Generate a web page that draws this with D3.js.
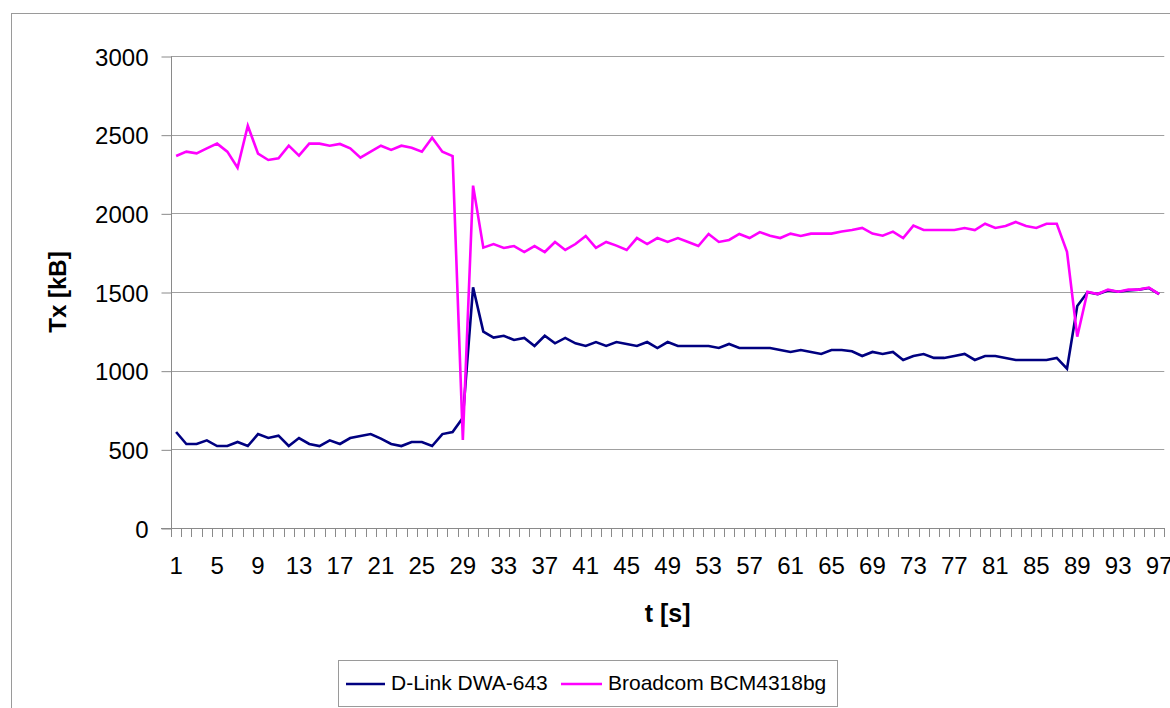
<!DOCTYPE html>
<html>
<head>
<meta charset="utf-8">
<script src="https://cdn.jsdelivr.net/npm/d3@7"></script>
<style>
  html, body { margin: 0; padding: 0; background: #fff; }
  svg { display: block; font-family: "Liberation Sans", Arial, sans-serif; }
</style>
</head>
<body>
<svg id="chart" width="1170" height="708"></svg>
<script>
// ---- data ----
const categories = d3.range(1, 98);
const seriesNames = ["D-Link DWA-643", "Broadcom BCM4318bg"];
const dlink = [610, 534, 534, 557, 521, 521, 547, 521, 597, 572,
  587, 521, 572, 534, 521, 557, 534, 572, 585, 597,
  568, 534, 521, 547, 547, 521, 597, 610, 700, 1530,
  1248, 1210, 1222, 1195, 1208, 1157, 1222, 1174, 1208, 1174,
  1157, 1182, 1157, 1182, 1170, 1157, 1182, 1144, 1182, 1157,
  1157, 1157, 1157, 1144, 1170, 1144, 1144, 1144, 1144, 1131,
  1119, 1131, 1119, 1106, 1131, 1131, 1123, 1093, 1119, 1106,
  1119, 1068, 1093, 1106, 1081, 1081, 1093, 1106, 1068, 1093,
  1093, 1081, 1068, 1068, 1068, 1068, 1081, 1013, 1411, 1498,
  1487, 1510, 1502, 1510, 1515, 1525, 1487];
const broadcom = [2364, 2392, 2381, 2413, 2443, 2392, 2290, 2557, 2379, 2339,
  2350, 2430, 2367, 2443, 2443, 2430, 2441, 2413, 2354, 2392,
  2430, 2403, 2430, 2417, 2392, 2481, 2392, 2364, 560, 2176,
  1782, 1805, 1780, 1792, 1754, 1792, 1754, 1818, 1767, 1805,
  1856, 1780, 1818, 1795, 1767, 1843, 1805, 1843, 1818, 1843,
  1818, 1792, 1869, 1818, 1831, 1869, 1843, 1881, 1858, 1843,
  1871, 1856, 1871, 1871, 1871, 1884, 1894, 1907, 1871, 1858,
  1884, 1843, 1922, 1894, 1894, 1894, 1894, 1907, 1894, 1934,
  1907, 1920, 1945, 1920, 1907, 1934, 1934, 1756, 1216, 1502,
  1487, 1515, 1502, 1515, 1515, 1528, 1487];
const yTicks = [0, 500, 1000, 1500, 2000, 2500, 3000];
const xTickLabels = categories.filter(c => (c - 1) % 4 === 0);
const colors = ["#000080", "#FF00FF"];

// ---- layout ----
const svg = d3.select("#chart");
const plotLeft = 171, plotTop = 56, plotBottom = 528, step = 10.24;
const plotRight = plotLeft + step * categories.length;

const x = d3.scaleBand().domain(categories).range([plotLeft, plotRight]).padding(0);
const y = d3.scaleLinear().domain([0, 3000]).range([plotBottom, plotTop]);
const cx = c => x(c) + x.bandwidth() / 2;

// outer frame
svg.append("rect").attr("x", 11.5).attr("y", 13.5).attr("width", 1200).attr("height", 760)
  .attr("fill", "#fff").attr("stroke", "#9a9a9a").attr("stroke-width", 1);

// gridlines
svg.append("g").selectAll("line").data(yTicks.filter(d => d > 0)).join("line")
  .attr("x1", plotLeft).attr("x2", plotRight)
  .attr("y1", d => Math.round(y(d)) + 0.5).attr("y2", d => Math.round(y(d)) + 0.5)
  .attr("stroke", "#a0a0a0").attr("stroke-width", 1);

// y axis
const yAxis = d3.axisLeft(y).tickValues(yTicks).tickSize(10).tickPadding(13).tickFormat(d3.format("d"));
const gy = svg.append("g").attr("transform", `translate(${plotLeft + 0.5},0.5)`).call(yAxis);
gy.select(".domain").attr("stroke", "#8a8a8a").attr("d", `M0,${plotTop}V${plotBottom}`);
gy.selectAll(".tick line").attr("stroke", "#8a8a8a");
gy.selectAll(".tick text").attr("font-size", 24).attr("fill", "#000")
  .attr("font-family", "Liberation Sans, Arial, sans-serif").attr("dy", "0.36em");

// x axis line and ticks between categories
const gx = svg.append("g");
gx.append("line").attr("x1", plotLeft - 10).attr("x2", plotRight)
  .attr("y1", plotBottom + 0.5).attr("y2", plotBottom + 0.5).attr("stroke", "#8a8a8a");
gx.selectAll("line.t").data(d3.range(0, categories.length + 1)).join("line").attr("class", "t")
  .attr("x1", i => Math.round(plotLeft + i * step) + 0.5).attr("x2", i => Math.round(plotLeft + i * step) + 0.5)
  .attr("y1", plotBottom).attr("y2", plotBottom + 9).attr("stroke", "#8a8a8a");
gx.selectAll("text").data(xTickLabels).join("text")
  .attr("x", d => cx(d)).attr("y", 574).attr("text-anchor", "middle")
  .attr("font-size", 24).attr("fill", "#000").text(d => d);

// axis titles
svg.append("text").attr("transform", `translate(66,292) rotate(-90)`)
  .attr("text-anchor", "middle").attr("font-size", 24).attr("font-weight", "bold").text("Tx [kB]");
svg.append("text").attr("x", (plotLeft + plotRight) / 2).attr("y", 622)
  .attr("text-anchor", "middle").attr("font-size", 25).attr("font-weight", "bold").text("t [s]");

// lines
const line = d3.line().x((d, i) => cx(categories[i])).y(d => y(d));
[dlink, broadcom].forEach((s, k) => {
  svg.append("path").datum(s).attr("d", line).attr("fill", "none")
    .attr("stroke", colors[k]).attr("stroke-width", 2.6).attr("stroke-linejoin", "miter");
});

// legend
const lg = svg.append("g");
lg.append("rect").attr("x", 338.5).attr("y", 660.5).attr("width", 499).attr("height", 46)
  .attr("fill", "#fff").attr("stroke", "#9a9a9a");
const legendItems = [
  { name: seriesNames[0], color: colors[0], x1: 346, x2: 385, tx: 391 },
  { name: seriesNames[1], color: colors[1], x1: 561, x2: 602, tx: 608 }
];
legendItems.forEach(it => {
  lg.append("line").attr("x1", it.x1).attr("x2", it.x2).attr("y1", 684).attr("y2", 684)
    .attr("stroke", it.color).attr("stroke-width", 2.6);
  lg.append("text").attr("x", it.tx).attr("y", 689.5).attr("font-size", 21).attr("fill", "#000").text(it.name);
});
</script>
</body>
</html>
